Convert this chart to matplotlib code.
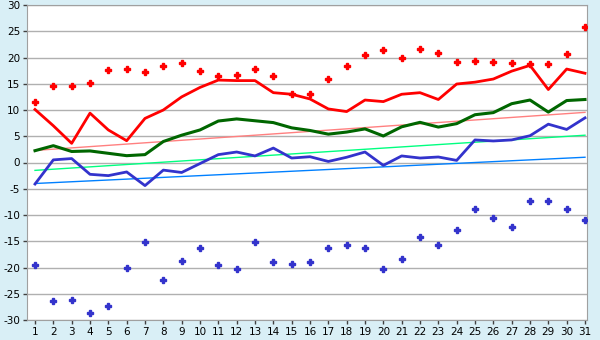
import matplotlib
matplotlib.use("Agg")
import matplotlib.pyplot as plt

plt.rcParams["axes.unicode_minus"] = False

days = list(range(1, 32))
tmax = [10.1, 7.0, 3.65, 9.4, 6.2, 4.15, 8.4, 10.0, 12.5, 14.3, 15.7, 15.6, 15.6, 13.3, 13.0,
        12.1, 10.2, 9.7, 11.9, 11.6, 13.0, 13.3, 12.0, 14.95, 15.3, 15.9, 17.4, 18.5, 13.9, 17.8, 17.0]
tmean = [2.25, 3.2, 2.1, 2.2, 1.75, 1.3, 1.5, 4.0, 5.2, 6.2, 7.9, 8.3, 7.95, 7.6, 6.6,
         6.1, 5.4, 5.8, 6.4, 5.05, 6.8, 7.65, 6.75, 7.4, 9.1, 9.5, 11.2, 11.9, 9.6, 11.8, 12.0]
tmin = [-4.1, 0.5, 0.75, -2.25, -2.5, -1.8, -4.4, -1.45, -1.9, -0.2, 1.5, 2.0, 1.25, 2.75, 0.85,
        1.1, 0.2, 1.0, 2.0, -0.55, 1.25, 0.85, 1.05, 0.4, 4.3, 4.1, 4.3, 5.1, 7.3, 6.3, 8.5]
rec_high = [11.5, 14.5, 14.5, 15.1, 17.6, 17.75, 17.2, 18.3, 18.9, 17.4, 16.4, 16.6, 17.75, 16.4, 13.1,
            13.0, 16.0, 18.3, 20.4, 21.4, 20.0, 21.6, 20.8, 19.1, 19.3, 19.1, 18.9, 18.7, 18.7, 20.6, 25.8]
rec_low = [-19.6, -26.4, -26.25, -28.7, -27.4, -20.0, -15.2, -22.4, -18.8, -16.2, -19.6, -20.3, -15.2, -19.0, -19.4,
           -19.0, -16.2, -15.8, -16.2, -20.3, -18.4, -14.1, -15.8, -12.9, -8.9, -10.6, -12.35, -7.4, -7.4, -8.9, -11.0]
trend_days = [1, 31]
norm_max = [2.3, 9.55]
norm_mean = [-1.5, 5.2]
norm_min = [-4.0, 1.0]
yticks = list(range(-30, 31, 5))

bg = "#d9eff6"
fig = plt.figure(figsize=(6.0, 3.4), dpi=100, facecolor=bg)
ax = fig.add_axes([27/600, 20/340, 560/600, 315/340])
ax.set_facecolor("white")

for y in yticks:
    ax.axhline(y, color="#b0b0b0", lw=1, zorder=1)

ax.plot(trend_days, norm_max, color="#ff8080", lw=1, zorder=2)
ax.plot(trend_days, norm_mean, color="#00ff80", lw=1, zorder=2)
ax.plot(trend_days, norm_min, color="#0080ff", lw=1, zorder=2)

ax.plot(days, tmax, color="#ff0000", lw=2, zorder=3)
ax.plot(days, tmean, color="#006600", lw=2.2, zorder=3)
ax.plot(days, tmin, color="#3333cc", lw=2, zorder=3)

ax.plot(days, rec_high, ls="none", marker="P", ms=4.5, color="#ff0000", mec="#ff0000", zorder=4)
ax.plot(days, rec_low, ls="none", marker="P", ms=4.5, color="#3333cc", mec="#3333cc", zorder=4)

ax.set_xlim(1 - 8/18.33, 31 + 2/18.33)
ax.set_ylim(-30, 30)
ax.set_xticks(days)
ax.set_yticks(yticks)
ax.tick_params(axis="both", labelsize=7.5, color="#404040", length=3, width=1, labelcolor="black", pad=2)
for s in ["top", "right", "left", "bottom"]:
    ax.spines[s].set_color("#a0a0a0")

fig.savefig("out.png", dpi=100, facecolor=bg)
